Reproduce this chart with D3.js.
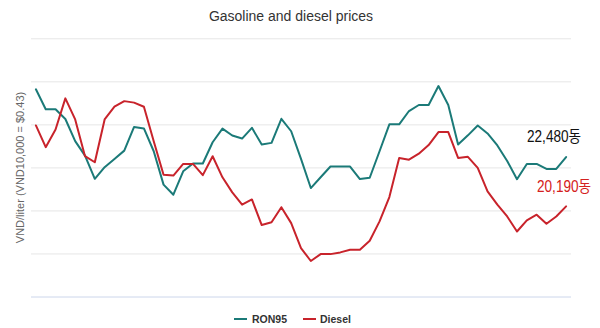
<!DOCTYPE html>
<html>
<head>
<meta charset="utf-8">
<script src="https://cdn.jsdelivr.net/npm/d3@7"></script>
<style>
  html, body { margin: 0; padding: 0; background: #fff; }
  svg { display: block; }
</style>
</head>
<body>
<div id="chart"></div>
<script>
// ---- data (VND per liter, weekly adjustments) ----
const weeks = d3.range(1, 56).map(i => "W" + i);
const ron95 = [25630, 24700, 24700, 24250, 23220, 22550, 21470, 22010, 22390, 22780,
               23880, 23810, 22750, 21200, 20730, 21820, 22180, 22180, 23170, 23800,
               23480, 23340, 23840, 23060, 23140, 24260, 23680, 22400, 21040, 21540,
               22040, 22040, 22040, 21460, 21520, 22750, 24000, 24000, 24620, 24900,
               24900, 25780, 24900, 23060, 23490, 23950, 23580, 23020, 22300, 21450,
               22160, 22160, 21930, 21930, 22480];
const diesel = [23950, 22940, 23760, 25210, 24230, 22520, 22240, 24230, 24820, 25080,
                25010, 24820, 23220, 21660, 21620, 22160, 22160, 21640, 22520, 21540,
                20840, 20270, 20510, 19320, 19450, 20150, 19410, 18250, 17650, 17970,
                17970, 18050, 18170, 18170, 18590, 19490, 20620, 22440, 22360, 22640,
                23040, 23640, 23640, 22440, 22490, 21980, 20890, 20270, 19720, 19020,
                19540, 19800, 19380, 19720, 20190];
const yTicks = [16000, 18000, 20000, 22000, 24000, 26000, 28000];
const seriesNames = ["RON95", "Diesel"];
const seriesColors = ["#1b7a78", "#c8232b"];
const endLabels = ["22,480동", "20,190동"];
const endLabelColors = ["#111111", "#d42020"];
const title = "Gasoline and diesel prices";
const yTitle = "VND/liter (VND10,000 = $0.43)";

// ---- layout ----
const W = 600, H = 328;
const svg = d3.select("#chart").append("svg").attr("width", W).attr("height", H)
  .style("font-family", "'Liberation Sans', Arial, sans-serif");

const x = d3.scalePoint().domain(weeks).range([31, 571]).padding(0.5);
const y = d3.scaleLinear().domain([16000, 28000]).range([296.5, 38.3]);

// grid
const yAxis = d3.axisLeft(y).tickValues(yTicks).tickSize(-(571 - 31)).tickFormat("");
const g = svg.append("g").attr("transform", "translate(31,0)").call(yAxis);
g.select(".domain").remove();
g.selectAll(".tick line").attr("stroke", "#e6e6e6").attr("stroke-width", 1);
g.selectAll(".tick").filter(d => d === 16000).select("line").attr("stroke", "#ccd6eb");

// title
svg.append("text").attr("x", 291).attr("y", 21).attr("text-anchor", "middle")
  .attr("fill", "#333333").attr("font-size", 14).text(title);

// y title
svg.append("text").attr("transform", "translate(24,167.5) rotate(-90)")
  .attr("text-anchor", "middle").attr("fill", "#666666").attr("font-size", 11).text(yTitle);

// lines
const data = [ron95, diesel];
const line = d3.line().x((d, i) => x(weeks[i])).y(d => y(d));
data.forEach((s, k) => {
  svg.append("path").datum(s).attr("d", line).attr("fill", "none")
    .attr("stroke", seriesColors[k]).attr("stroke-width", 2)
    .attr("stroke-linejoin", "round").attr("stroke-linecap", "round");
});

// end labels (condensed)
const labelPos = [{x: 527, y: 142}, {x: 537, y: 192}];
endLabels.forEach((t, k) => {
  svg.append("g").attr("transform", `translate(${labelPos[k].x},${labelPos[k].y}) scale(0.85,1)`)
    .append("text").attr("x", 0).attr("y", 0)
    .attr("fill", endLabelColors[k]).attr("font-size", 16)
    .attr("font-family", "'Liberation Sans', 'Noto Sans CJK KR', sans-serif")
    .text(t);
});

// legend
const legendItems = [{lx: 234, tx: 252}, {lx: 303, tx: 320}];
seriesNames.forEach((n, k) => {
  const it = legendItems[k];
  svg.append("line").attr("x1", it.lx).attr("x2", it.lx + 13).attr("y1", 319).attr("y2", 319)
    .attr("stroke", seriesColors[k]).attr("stroke-width", 2);
  svg.append("text").attr("x", it.tx).attr("y", 322.5).attr("font-size", 10.5)
    .attr("font-weight", "bold").attr("fill", "#333333").text(n);
});
</script>
</body>
</html>
